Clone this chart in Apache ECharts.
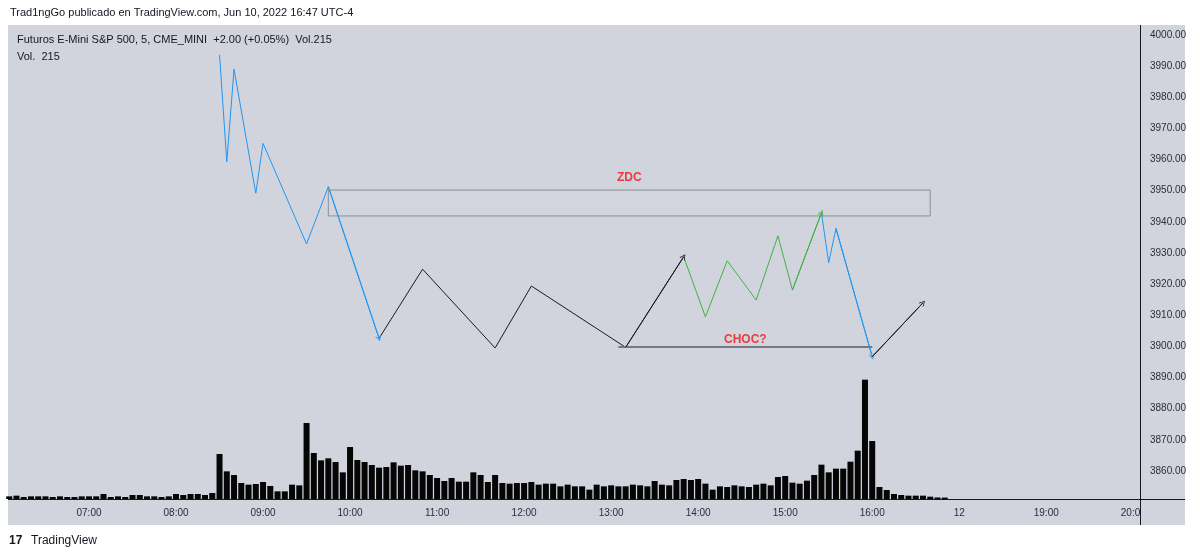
<!DOCTYPE html>
<html><head><meta charset="utf-8">
<script src="https://cdn.jsdelivr.net/npm/echarts@6/dist/echarts.min.js"></script>
<style>html,body{margin:0;padding:0;background:#fff}#c{width:1200px;height:558px}</style>
</head><body><div id="c"></div>
<script>
// ---- time slots (5-minute bars), two sessions; day change shown as "12"
const sessionStarts = ['06:05', '18:00'];
const sessionEnds   = ['16:55', '20:05'];
const sessionDayLabels = [null, '12'];

// ---- volume per 5-min bar, starting at 06:05
const volumes = [
  400,500,300,400,400,400,300,400,300,300,400,
  400,400,750,300,400,300,600,600,400,400,300,400,
  750,600,750,750,600,900,6750,4150,3600,2400,2150,2250,
  2550,1950,1150,1150,2150,2050,11400,6900,5800,6100,5550,4000,
  7800,5850,5550,5100,4700,4800,5500,5000,5100,4300,4150,3600,
  3150,2700,3150,2600,2600,4000,3600,2550,3600,2400,2300,2400,
  2400,2550,2150,2300,2300,1900,2150,1900,1900,1400,2150,1900,
  2050,1900,1900,2150,2050,1900,2700,2150,2050,2850,3000,2850,
  3000,2300,1400,1900,1800,2050,1900,1800,2150,2300,2050,3300,
  3450,2450,2300,2750,3600,5150,4000,4550,4550,5600,7250,17900,
  8700,1800,1350,750,600,500,500,500,350,230,215
];

// ---- price tick labels
const priceTicks = [4000,3990,3980,3970,3960,3950,3940,3930,3920,3910,3900,3890,3880,3870,3860];

// ---- drawings: [bar index, price]
const blueDown1   = [[29,3993.6],[30,3959.3],[31,3989.0],[34,3949.2],[35,3965.2],[41,3932.9],[44,3951.3],[51,3902.6]];
const blackSwing1 = [[51,3902.6],[57,3924.8],[67,3899.5],[72,3919.4],[85,3899.7],[93,3928.8]];
const greenSwing  = [[93,3928.8],[96,3909.5],[99,3927.5],[103,3914.9],[106,3935.5],[108,3918.1],[112,3942.9]];
const blueDown2   = [[112,3942.9],[113,3926.9],[114,3937.9],[119,3896.7]];
const blackSwing2 = [[119,3896.7],[126,3914.0]];
const chocLine    = [[84,3899.8],[119,3899.8]];
const zdcZone     = [[44,3950.2],[127,3941.9]];
const textMarks   = [{name:'ZDC', value:[85.5,3954.3]}, {name:'CHOC?', value:[101.5,3902.3]}];

// ---- build categories
function toMin(s){const p=s.split(':').map(Number);return p[0]*60+p[1];}
function fmt(m){return String(Math.floor(m/60)).padStart(2,'0')+':'+String(m%60).padStart(2,'0');}
const categories = [];
sessionStarts.forEach((s,k)=>{
  for(let m=toMin(s); m<=toMin(sessionEnds[k]); m+=5){
    categories.push(m===toMin(s) && sessionDayLabels[k] ? sessionDayLabels[k] : fmt(m));
  }
});

// ---- layout
const SLOT = 7.252, LEFT = 5.6, AXIS_X = 1140;
const PX_PER_PT = 436/140, P_MIN = 3850, P_TOP = 25;
const P_MAX = 4000 + (35 - P_TOP)/PX_PER_PT;
const VOL_BOTTOM = 499, VOL_TOP = 25;
const volMax = (VOL_BOTTOM - VOL_TOP) * 150;
const priceGridW = AXIS_X - LEFT;

const BG = '#d1d4dc';
const arrow = 'path://M0,10 L5,0 L10,10 L8.8,10.6 L5,2.6 L1.2,10.6 Z';

function segs(pts, color, width){
  const out=[];
  for(let i=0;i<pts.length-1;i++) out.push({coords:[pts[i],pts[i+1]], lineStyle:{color:color,width:width||1}});
  return out;
}
function last(pts, color){
  const n=pts.length;
  return {coords:[pts[n-2],pts[n-1]], lineStyle:{color:color,width:1}};
}
const BLUE='#2196f3', GREEN='#43b047', BLACK='#1b1b1b';

const chart = echarts.init(document.getElementById('c'), null, {renderer:'canvas'});
chart.setOption({
  backgroundColor:'#ffffff',
  animation:false,
  grid:[
    {left:LEFT, top:P_TOP, width:priceGridW, height:(P_MAX-P_MIN)*PX_PER_PT},
    {left:LEFT, top:VOL_TOP, width:categories.length*SLOT, height:VOL_BOTTOM-VOL_TOP}
  ],
  xAxis:[
    {gridIndex:0, type:'value', min:-0.5, max:-0.5+priceGridW/SLOT, show:false},
    {gridIndex:1, type:'category', data:categories, boundaryGap:true,
     axisLine:{show:false}, axisTick:{show:false}, splitLine:{show:false},
     axisLabel:{interval:(i,v)=>v.endsWith(':00')||v.indexOf(':')<0, color:'#2a2e39',
       fontFamily:'Liberation Sans', fontSize:10, margin:9, hideOverlap:false}}
  ],
  yAxis:[
    {gridIndex:0, type:'value', position:'right', min:P_MIN, max:P_MAX, interval:10,
     axisLine:{show:false}, axisTick:{show:false}, splitLine:{show:false},
     axisLabel:{margin:10, color:'#2a2e39', fontFamily:'Liberation Sans', fontSize:10,
       formatter:v=>priceTicks.indexOf(Math.round(v))>=0 && Math.abs(v-Math.round(v))<1e-6 ? v.toFixed(2) : ''}},
    {gridIndex:1, type:'value', min:0, max:volMax, show:false}
  ],
  series:[
    {type:'bar', xAxisIndex:1, yAxisIndex:1, data:volumes, barWidth:6,
     itemStyle:{color:'#050505'}, silent:true, z:2},
    {type:'lines', coordinateSystem:'cartesian2d', xAxisIndex:0, yAxisIndex:0, z:5, silent:true,
     lineStyle:{opacity:1,width:1}, symbol:['none','none'],
     data:[].concat(segs(blueDown1,BLUE), segs(blackSwing1,BLACK), segs(greenSwing,GREEN),
                    segs(blueDown2,BLUE), segs(blackSwing2,BLACK), segs(chocLine,'#767982',2))},
    {type:'lines', coordinateSystem:'cartesian2d', xAxisIndex:0, yAxisIndex:0, z:6, silent:true,
     lineStyle:{opacity:1,width:1}, symbol:['none',arrow], symbolSize:[8,6],
     data:[last(blueDown1,BLUE), last(blackSwing1,BLACK), last(greenSwing,GREEN), last(blueDown2,BLUE), last(blackSwing2,BLACK)]},
    {type:'scatter', xAxisIndex:0, yAxisIndex:0, symbolSize:1, itemStyle:{color:'rgba(0,0,0,0)'}, z:7, silent:true,
     data:textMarks,
     label:{show:true, position:'inside', formatter:'{b}', color:'#f01515', fontWeight:'bold', fontSize:12, fontFamily:'Liberation Sans'},
     markArea:{silent:true, itemStyle:{color:'rgba(255,255,255,0.04)', borderColor:'#8c8f96', borderWidth:1},
       data:[[{coord:zdcZone[0]},{coord:zdcZone[1]}]]}}
  ],
  graphic:[
    {type:'rect', z:-10, shape:{x:8,y:25,width:1177,height:500}, style:{fill:BG}},
    {type:'rect', z:40, shape:{x:1141,y:500,width:44,height:25}, style:{fill:BG}},
    {type:'line', z:50, shape:{x1:AXIS_X+0.5,y1:25,x2:AXIS_X+0.5,y2:525}, style:{stroke:'#131722',lineWidth:1}},
    {type:'line', z:50, shape:{x1:8,y1:VOL_BOTTOM+0.5,x2:1185,y2:VOL_BOTTOM+0.5}, style:{stroke:'#131722',lineWidth:1}},
    {type:'text', z:50, left:10, top:7, style:{text:'Trad1ngGo publicado en TradingView.com, Jun 10, 2022 16:47 UTC-4', fill:'#131722', font:'11px "Liberation Sans"'}},
    {type:'text', z:50, left:17, top:34, style:{text:'Futuros E-Mini S&P 500, 5, CME_MINI  +2.00 (+0.05%)  Vol.215', fill:'#131722', font:'11px "Liberation Sans"'}},
    {type:'text', z:50, left:17, top:51, style:{text:'Vol.  215', fill:'#131722', font:'11px "Liberation Sans"'}},
    {type:'text', z:50, left:9, top:535, style:{text:'17', fill:'#131722', font:'900 12px "Liberation Sans"'}},
    {type:'text', z:50, left:31, top:535, style:{text:'TradingView', fill:'#131722', font:'12px "Liberation Sans"'}}
  ]
});
</script></body></html>
